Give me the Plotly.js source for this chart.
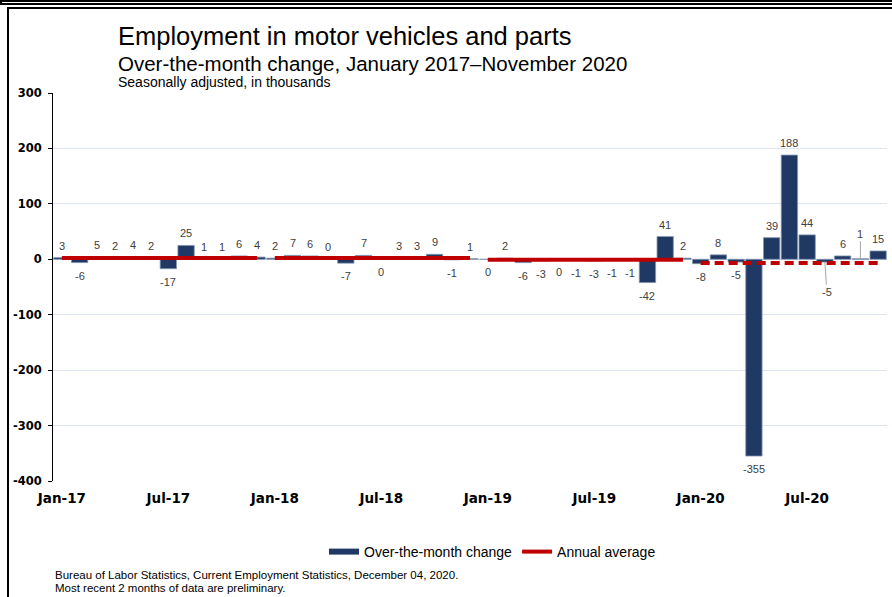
<!DOCTYPE html>
<html>
<head>
<meta charset="utf-8">
<script src="https://cdn.plot.ly/plotly-3.0.1.min.js"></script>
<style>
  html, body { margin: 0; padding: 0; background: #fff; overflow: hidden; }
  #wrap { position: relative; width: 892px; height: 597px; overflow: hidden; }
  #chart { position: absolute; left: 0; top: 0; width: 892px; height: 597px; }
  .hl { position: absolute; left: 0; width: 892px; height: 2px; background: #000; pointer-events: none; }
  .vl { position: absolute; left: 0; top: 0; width: 2px; height: 5px; background: #000; pointer-events: none; }
  #box { position: absolute; left: 7px; top: 7px; width: 910px; height: 610px; border: 2px solid #000; box-sizing: border-box; pointer-events: none; }
</style>
</head>
<body>
<div id="wrap">
  <div id="chart"></div>
  <div class="hl" style="top:0px"></div>
  <div class="hl" style="top:3px"></div>
  <div class="vl"></div>
  <div id="box"></div>
</div>
<script>
// ---------- data ----------
const months = [
  'Jan-17','Feb-17','Mar-17','Apr-17','May-17','Jun-17','Jul-17','Aug-17','Sep-17','Oct-17','Nov-17','Dec-17',
  'Jan-18','Feb-18','Mar-18','Apr-18','May-18','Jun-18','Jul-18','Aug-18','Sep-18','Oct-18','Nov-18','Dec-18',
  'Jan-19','Feb-19','Mar-19','Apr-19','May-19','Jun-19','Jul-19','Aug-19','Sep-19','Oct-19','Nov-19','Dec-19',
  'Jan-20','Feb-20','Mar-20','Apr-20','May-20','Jun-20','Jul-20','Aug-20','Sep-20','Oct-20','Nov-20'
];
const overMonthChange = [
  3, -6, 5, 2, 4, 2, -17, 25, 1, 1, 6, 4,
  2, 7, 6, 0, -7, 7, 0, 3, 3, 9, -1, 1,
  0, 2, -6, -3, 0, -1, -3, -1, -1, -42, 41, 2,
  -8, 8, -5, -355, 39, 188, 44, -5, 6, 1, 15
];
const years = ['2017', '2018', '2019', '2020'];
const annualAverage = [2.5, 2.5, -1.0, -6.5];
const xTickLabels = ['Jan-17','Jul-17','Jan-18','Jul-18','Jan-19','Jul-19','Jan-20','Jul-20'];
const yTickValues = [-400, -300, -200, -100, 0, 100, 200, 300];
const yTickLabels = ['-400', '-300', '-200', '-100', '0', '100', '200', '300'];

// ---------- style helpers ----------
const zeroLabelAbove = ['Apr-18'];
const leaderOffsets = { 'Aug-20': { ax: 2, ay: 30 }, 'Oct-20': { ax: 0, ay: -25 } };
const NAVY = '#203864';
const RED = '#c00000';

const idx = months.map((m, i) => i);
const yearOf = m => '20' + m.slice(4);

const traces = [];
traces.push({
  type: 'bar', x: idx, y: overMonthChange, width: 0.92,
  marker: { color: NAVY, line: { color: '#8496b0', width: 0.8 } },
  showlegend: false, hoverinfo: 'skip'
});
traces.push({
  type: 'scatter', mode: 'lines', x: [null], y: [null],
  name: 'Over-the-month change', line: { color: NAVY, width: 6 }, hoverinfo: 'skip'
});
years.forEach((yr, k) => {
  const xs = idx.filter(i => yearOf(months[i]) === yr);
  traces.push({
    type: 'scatter', mode: 'lines', x: xs, y: xs.map(() => annualAverage[k]),
    name: 'Annual average', legendgroup: 'avg', showlegend: k === 0,
    line: { color: RED, width: 4, dash: yr === '2020' ? '9px,5px' : 'solid' },
    hoverinfo: 'skip'
  });
});

// ---------- annotations ----------
const annotations = [];
const labelFont = { family: 'Liberation Sans, Arial, sans-serif', size: 11, color: '#404040' };
overMonthChange.forEach((v, i) => {
  const m = months[i];
  const txt = String(v);
  if (leaderOffsets[m]) {
    annotations.push({
      x: i, y: v, xref: 'x', yref: 'y', text: txt, font: labelFont,
      showarrow: true, arrowhead: 0, arrowwidth: 1, arrowcolor: '#a6a6a6',
      ax: leaderOffsets[m].ax, ay: leaderOffsets[m].ay, standoff: 0
    });
    return;
  }
  const above = v > 0 || (v === 0 && zeroLabelAbove.includes(m));
  annotations.push({
    x: i, y: v, xref: 'x', yref: 'y', text: txt, font: labelFont,
    showarrow: false, yanchor: 'middle', yshift: above ? 12 : -13
  });
});

const titleFont = 'Liberation Sans, Arial, sans-serif';
annotations.push(
  { xref: 'paper', yref: 'paper', x: 0.0755, y: 1.1466, xanchor: 'left', yanchor: 'middle', showarrow: false,
    text: 'Employment in motor vehicles and parts', font: { family: titleFont, size: 25.5, color: '#000' } },
  { xref: 'paper', yref: 'paper', x: 0.0755, y: 1.0773, xanchor: 'left', yanchor: 'middle', showarrow: false,
    text: 'Over-the-month change, January 2017–November 2020', font: { family: titleFont, size: 20.5, color: '#000' } },
  { xref: 'paper', yref: 'paper', x: 0.0755, y: 1.0283, xanchor: 'left', yanchor: 'middle', showarrow: false,
    text: 'Seasonally adjusted, in thousands', font: { family: titleFont, size: 14, color: '#000' } },
  { xref: 'paper', yref: 'paper', x: 0, y: -0.242, xanchor: 'left', yanchor: 'middle', showarrow: false,
    text: 'Bureau of Labor Statistics, Current Employment Statistics, December 04, 2020.', font: { family: titleFont, size: 11.5, color: '#000' } },
  { xref: 'paper', yref: 'paper', x: 0, y: -0.276, xanchor: 'left', yanchor: 'middle', showarrow: false,
    text: 'Most recent 2 months of data are preliminary.', font: { family: titleFont, size: 11.5, color: '#000' } }
);

const xRange = [-0.5, months.length - 0.5];
const boundaries = idx.filter(i => i > 0 && i % 6 === 0).map(i => i - 0.5);
const labelVals = idx.filter(i => i % 6 === 0);

const layout = {
  width: 892, height: 597,
  margin: { l: 53, r: 5, t: 93, b: 116 },
  paper_bgcolor: '#fff', plot_bgcolor: '#fff',
  showlegend: true,
  legend: {
    orientation: 'h', x: 0.527, xanchor: 'center', y: -0.183, yanchor: 'middle',
    font: { family: titleFont, size: 14, color: '#000' }, itemwidth: 30, traceorder: 'normal'
  },
  xaxis: {
    range: xRange, autorange: false, tickvals: labelVals, ticktext: xTickLabels,
    ticks: '', showline: false, showgrid: false, zeroline: false,
    tickfont: { family: 'DejaVu Sans, Verdana, sans-serif', size: 13.5, color: '#000', weight: 'bold' },
    ticklabelstandoff: 7
  },
  xaxis2: {
    overlaying: 'x', anchor: 'free', position: 4 / 7, range: xRange, autorange: false,
    showline: true, linecolor: '#000', linewidth: 1, ticks: 'outside', ticklen: 4, tickcolor: '#000', tickwidth: 1,
    tickvals: boundaries, showticklabels: false, showgrid: false, zeroline: false, layer: 'below traces'
  },
  xaxis3: {
    overlaying: 'x', anchor: 'free', position: 4 / 7, range: xRange, autorange: false,
    showline: false, ticks: 'inside', ticklen: 4, tickcolor: '#000', tickwidth: 1,
    tickvals: boundaries, showticklabels: false, showgrid: false, zeroline: false, layer: 'below traces'
  },
  yaxis: {
    range: [-400, 300], autorange: false, tickvals: yTickValues, ticktext: yTickLabels,
    ticks: 'outside', ticklen: 4, tickcolor: '#000', showline: true, linecolor: '#000', linewidth: 1,
    showgrid: true, gridcolor: '#dde5f1', gridwidth: 1, zeroline: false,
    tickfont: { family: 'DejaVu Sans, Verdana, sans-serif', size: 11.5, color: '#000', weight: 'bold' },
    ticklabelstandoff: 4
  },
  bargap: 0.08,
  annotations: annotations
};

Plotly.newPlot('chart', traces, layout, { displayModeBar: false, staticPlot: true });
</script>
</body>
</html>
